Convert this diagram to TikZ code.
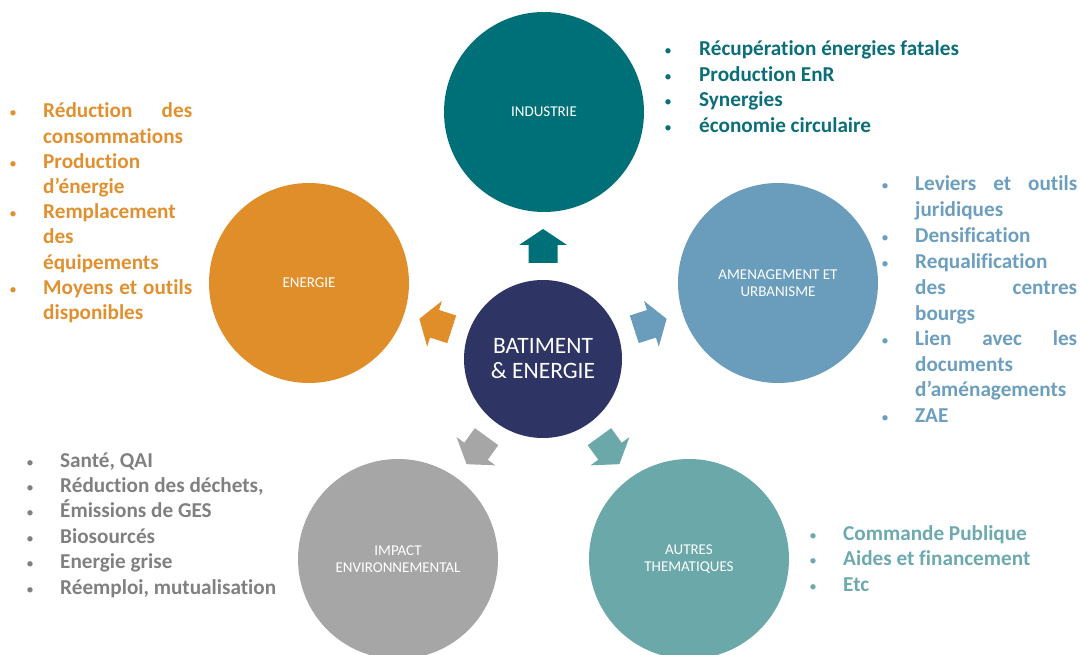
\documentclass[tikz,border=0pt]{standalone}
\usepackage{fontspec}
\setmainfont{Carlito}[Ligatures={NoCommon}]
\definecolor{cCenter}{HTML}{2E3464}
\definecolor{cInd}{HTML}{007078}
\definecolor{cEne}{HTML}{E08E2A}
\definecolor{cAme}{HTML}{6A9DBB}
\definecolor{cImp}{HTML}{A6A6A6}
\definecolor{cAut}{HTML}{6BA8AA}
\definecolor{tInd}{HTML}{0B6E78}
\definecolor{tEne}{HTML}{E0902F}
\definecolor{tAme}{HTML}{6C9EBE}
\definecolor{tImp}{HTML}{808080}
\definecolor{tAut}{HTML}{6DA9AE}
\begin{document}
\begin{tikzpicture}[x=1pt,y=-1pt,
  circ/.style={circle,draw=none,inner sep=0pt,minimum size=200pt,text=white,align=center,
    font=\fontsize{15}{17.5}\selectfont},
  lst/.style={anchor=base west,inner sep=0pt,font=\bfseries\fontsize{21.2}{25}\selectfont},
  bul/.style={anchor=base,inner sep=0pt,font=\fontsize{15}{18}\selectfont},
  blockarrow/.pic={\fill (0,-130) -- (24,-114) -- (14.5,-114) -- (14.5,-96) -- (-14.5,-96) -- (-14.5,-114) -- (-24,-114) -- cycle;}
]
\useasboundingbox (0,0) rectangle (1080,655);

% circles
\node[circ,fill=cCenter,minimum size=158pt,font=\fontsize{23.5}{25}\selectfont] (c) at (543,359) {BATIMENT\\\& ENERGIE};
\node[circ,fill=cInd] (ind) at (544,112) {INDUSTRIE};
\node[circ,fill=cEne] (ene) at (309,283) {ENERGIE};
\node[circ,fill=cAme] (ame) at (778,283) {AMENAGEMENT ET\\URBANISME};
\node[circ,fill=cImp] (imp) at (398,559) {IMPACT\\ENVIRONNEMENTAL};
\node[circ,fill=cAut] (aut) at (689,559) {AUTRES\\THEMATIQUES};

% block arrows
\begin{scope}[shift={(c.center)}]
  \pic[cInd] {blockarrow};
  \pic[cEne,rotate=72] {blockarrow};
  \pic[cAme,rotate=-72] {blockarrow};
  \pic[cImp,rotate=144] {blockarrow};
  \pic[cAut,rotate=-144] {blockarrow};
\end{scope}

% INDUSTRIE list
\begin{scope}[text=tInd]
\node[bul] (bi1) at (668,56) {•};
\node[bul] (bi2) at (668,81.5) {•};
\node[bul] (bi3) at (668,107) {•};
\node[bul] (bi4) at (668,132.5) {•};
\node[lst] (li1) at (699,56) {Récupération énergies fatales};
\node[lst] (li2) at (699,81.5) {Production EnR};
\node[lst] (li3) at (699,107) {Synergies};
\node[lst] (li4) at (699,132.5) {économie circulaire};
\end{scope}

% ENERGIE list
\begin{scope}[text=tEne]
\node[bul] (be1) at (13,118) {•};
\node[bul] (be2) at (13,168.4) {•};
\node[bul] (be3) at (13,218.8) {•};
\node[bul] (be4) at (13,294.4) {•};
\node[lst] (le1) at (43,118) {\makebox[149pt][s]{Réduction des}};
\node[lst] (le2) at (43,143.2) {consommations};
\node[lst] (le3) at (43,168.4) {Production};
\node[lst] (le4) at (43,193.6) {d’énergie};
\node[lst] (le5) at (43,218.8) {Remplacement};
\node[lst] (le6) at (43,244) {des};
\node[lst] (le7) at (43,269.2) {équipements};
\node[lst] (le8) at (43,294.4) {\makebox[149pt][s]{Moyens et outils}};
\node[lst] (le9) at (43,319.6) {disponibles};
\end{scope}

% AMENAGEMENT list
\begin{scope}[text=tAme]
\node[bul] (ba1) at (885,191) {•};
\node[bul] (ba2) at (885,242.6) {•};
\node[bul] (ba3) at (885,268.4) {•};
\node[bul] (ba4) at (885,345.8) {•};
\node[bul] (ba5) at (885,422.2) {•};
\node[lst] (la1) at (915,191) {\makebox[162pt][s]{Leviers et outils}};
\node[lst] (la2) at (915,216.8) {juridiques};
\node[lst] (la3) at (915,242.6) {Densification};
\node[lst] (la4) at (915,268.4) {Requalification};
\node[lst] (la5) at (915,294.2) {\makebox[162pt][s]{des centres}};
\node[lst] (la6) at (915,320) {bourgs};
\node[lst] (la7) at (915,345.8) {\makebox[162pt][s]{Lien avec les}};
\node[lst] (la8) at (915,371.6) {documents};
\node[lst] (la9) at (915,396.4) {d’aménagements};
\node[lst] (la10) at (915,422.2) {ZAE};
\end{scope}

% IMPACT list
\begin{scope}[text=tImp]
\node[bul] (bm1) at (30,467) {•};
\node[bul] (bm2) at (30,492.4) {•};
\node[bul] (bm3) at (30,517.8) {•};
\node[bul] (bm4) at (30,543.2) {•};
\node[bul] (bm5) at (30,568.6) {•};
\node[bul] (bm6) at (30,594) {•};
\node[lst] (lm1) at (60,467) {Santé, QAI};
\node[lst] (lm2) at (60,492.4) {Réduction des déchets,};
\node[lst] (lm3) at (60,517.8) {Émissions de GES};
\node[lst] (lm4) at (60,543.2) {Biosourcés};
\node[lst] (lm5) at (60,568.6) {Energie grise};
\node[lst] (lm6) at (60,594) {Réemploi, mutualisation};
\end{scope}

% AUTRES list
\begin{scope}[text=tAut]
\node[bul] (bt1) at (813,540) {•};
\node[bul] (bt2) at (813,565.5) {•};
\node[bul] (bt3) at (813,591) {•};
\node[lst] (lt1) at (843,540) {Commande Publique};
\node[lst] (lt2) at (843,565.5) {Aides et financement};
\node[lst] (lt3) at (843,591) {Etc};
\end{scope}
\end{tikzpicture}
\end{document}
